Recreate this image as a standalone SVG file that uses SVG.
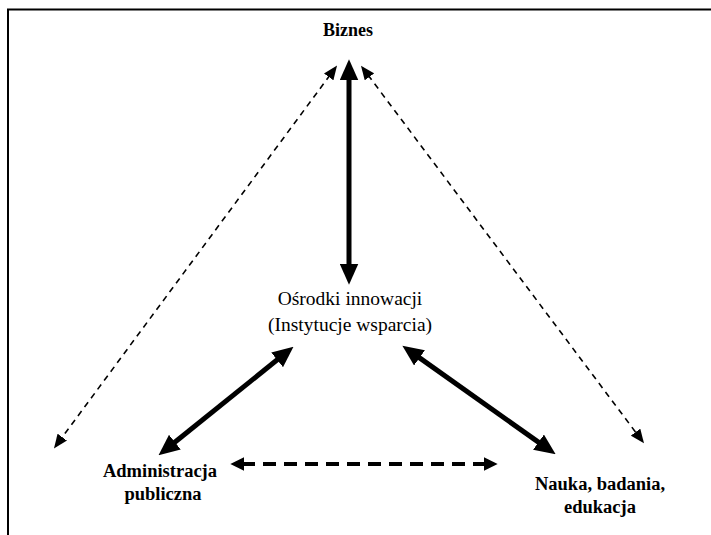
<svg xmlns="http://www.w3.org/2000/svg" width="711" height="535" viewBox="0 0 711 535">
<defs>
<style>
.lbl{font-family:"Liberation Serif","Times New Roman",serif;fill:#000;text-anchor:middle}
.b{font-weight:bold;font-size:18px}
.bb{font-weight:bold;font-size:18.5px}
.n{font-size:19.5px}
.thick{stroke:#000;stroke-width:5;fill:none;marker-start:url(#hT);marker-end:url(#hT)}
.thin{stroke:#000;stroke-width:1.6;fill:none;stroke-dasharray:6 5;marker-start:url(#hS);marker-end:url(#hS)}
.bold{stroke:#000;stroke-width:4;fill:none;stroke-dasharray:13 8;marker-start:url(#hB);marker-end:url(#hB)}
</style>
<marker id="hT" markerUnits="userSpaceOnUse" markerWidth="21" markerHeight="19" viewBox="0 0 19 17" refX="3" refY="8.5" orient="auto-start-reverse"><path d="M0,0 L19,8.5 L0,17 z" fill="#000"/></marker>
<marker id="hS" markerUnits="userSpaceOnUse" markerWidth="14" markerHeight="12" viewBox="0 0 12 10" refX="2" refY="5" orient="auto-start-reverse"><path d="M0,0 L12,5 L0,10 z" fill="#000"/></marker>
<marker id="hB" markerUnits="userSpaceOnUse" markerWidth="14" markerHeight="14" viewBox="0 0 12 12" refX="2" refY="6" orient="auto-start-reverse"><path d="M0,0 L12,6 L0,12 z" fill="#000"/></marker>
</defs>
<rect width="711" height="535" fill="#fff"/>
<path d="M8,535 V9.5 H711" stroke="#000" stroke-width="2" fill="none"/>
<g id="connectors">
<path class="thick" d="M349,77 L349,267"/>
<path class="thick" d="M279.7,357.8 L172.3,444.2"/>
<path class="thick" d="M416.8,355.9 L541.2,444.1"/>
<path class="thin" d="M330.1,75 L60.9,439"/>
<path class="thin" d="M368,75 L637,434"/>
<path class="bold" d="M242,464 L486,464"/>
</g>
<g id="biznes"><text class="lbl b" x="348" y="36">Biznes</text></g>
<g id="osrodki"><text class="lbl n" x="350" y="305">Ośrodki innowacji</text><text class="lbl n" x="350" y="331">(Instytucje wsparcia)</text></g>
<g id="administracja"><text class="lbl bb" x="160" y="477">Administracja</text><text class="lbl bb" x="163" y="500">publiczna</text></g>
<g id="nauka"><text class="lbl bb" x="600" y="490">Nauka, badania,</text><text class="lbl bb" x="600" y="513">edukacja</text></g>
</svg>
